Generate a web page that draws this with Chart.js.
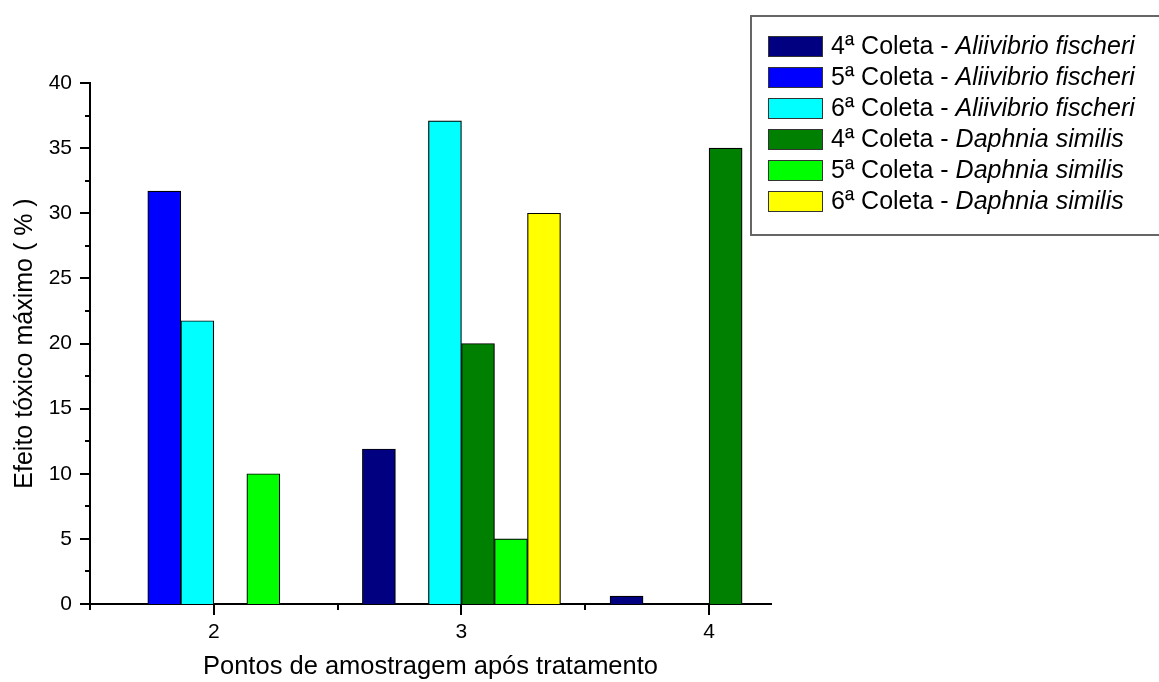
<!DOCTYPE html>
<html>
<head>
<meta charset="utf-8">
<script src="https://cdn.jsdelivr.net/npm/chart.js@4"></script>
<style>
  html, body { margin: 0; padding: 0; background: #fff; }
  canvas { display: block; }
</style>
</head>
<body>
<canvas id="c" width="1159" height="682"></canvas>
<script>
// Sampling points after treatment
const points = [2, 3, 4];
const collections = ['4ª Coleta', '5ª Coleta', '6ª Coleta'];
const organisms = ['Aliivibrio fischeri', 'Daphnia similis'];

// Maximum toxic effect (%) at points 2, 3, 4 (null = not detected)
const af4 = [null, 11.9, 0.6];
const af5 = [31.7, null, null];
const af6 = [21.75, 37.1, null];
const ds4 = [null, 20, 35];
const ds5 = [10, 5, null];
const ds6 = [null, 30, null];

// Tick positions on the x axis (half steps carry minor marks)
const xTickValues = [1.5, 2, 2.5, 3, 3.5, 4];

const seriesValues = [af4, af5, af6, ds4, ds5, ds6];
const seriesColors = ['#000080', '#0000FF', '#00FFFF', '#008000', '#00FF00', '#FFFF00'];
const seriesLabels = [];
organisms.forEach(o => collections.forEach(c => seriesLabels.push(c + ' - ' + o)));

const FONT = '"Liberation Sans", Arial, sans-serif';

// Outward tick marks: long for labelled values, short for intermediate ones
const axisTicks = {
  id: 'axisTicks',
  afterDraw(chart) {
    const { ctx, scales: { x, y } } = chart;
    ctx.save();
    ctx.strokeStyle = '#000';
    ctx.lineWidth = 2;
    ctx.beginPath();
    y.ticks.forEach(t => {
      const py = Math.round(y.getPixelForValue(t.value));
      const len = t.value % 5 === 0 ? 10 : 5;
      ctx.moveTo(y.right - len, py);
      ctx.lineTo(y.right, py);
    });
    x.ticks.forEach(t => {
      const px = Math.round(x.getPixelForValue(t.value));
      const len = Number.isInteger(t.value) ? 11 : 6;
      ctx.moveTo(px, x.top);
      ctx.lineTo(px, x.top + len);
    });
    ctx.stroke();
    ctx.restore();
  }
};

// Framed legend with the species name in italics
const boxLegend = {
  id: 'boxLegend',
  afterDraw(chart) {
    const ctx = chart.ctx;
    ctx.save();
    ctx.strokeStyle = '#666';
    ctx.lineWidth = 2;
    ctx.strokeRect(751, 16, 430, 219);
    chart.data.datasets.forEach((ds, i) => {
      const cy = 46.5 + i * 31;
      ctx.fillStyle = ds.backgroundColor;
      ctx.fillRect(768, cy - 10.5, 55, 21);
      ctx.strokeStyle = '#333';
      ctx.lineWidth = 1;
      ctx.strokeRect(768.5, cy - 10, 54, 20);
      const parts = ds.label.split(' - ');
      const head = parts[0] + ' - ';
      ctx.fillStyle = '#000';
      ctx.textBaseline = 'middle';
      ctx.textAlign = 'left';
      ctx.font = '25px ' + FONT;
      let tx = 831;
      ctx.fillText(head, tx, cy + 1);
      tx += ctx.measureText(head).width;
      ctx.font = 'italic 25px ' + FONT;
      ctx.fillText(parts[1], tx, cy + 1);
    });
    ctx.restore();
  }
};

new Chart(document.getElementById('c'), {
  type: 'bar',
  data: {
    datasets: seriesValues.map((vals, i) => ({
      label: seriesLabels[i],
      data: points.map((p, j) => ({ x: p, y: vals[j] })),
      backgroundColor: seriesColors[i],
      borderColor: '#000',
      borderWidth: 1.2
    }))
  },
  options: {
    responsive: false,
    animation: false,
    layout: { padding: { left: 0, top: 83, right: 388, bottom: 0 } },
    plugins: {
      legend: { display: false },
      tooltip: { enabled: false }
    },
    datasets: {
      bar: { barThickness: 'flex', categoryPercentage: 0.8, barPercentage: 1 }
    },
    scales: {
      x: {
        type: 'linear',
        min: 1.5,
        max: 4.25,
        offset: false,
        afterBuildTicks: s => { s.ticks = xTickValues.map(v => ({ value: v })); },
        afterFit: s => { s.height = 78; },
        grid: { display: false, drawTicks: false },
        border: { display: true, color: '#000', width: 2 },
        ticks: {
          autoSkip: false,
          maxRotation: 0,
          padding: 16,
          color: '#000',
          font: { family: FONT, size: 21 },
          callback: v => Number.isInteger(v) ? String(v) : ''
        },
        title: {
          display: true,
          text: 'Pontos de amostragem após tratamento',
          color: '#000',
          font: { family: FONT, size: 25.5 },
          padding: { top: 0, bottom: 0 }
        }
      },
      y: {
        min: 0,
        max: 40,
        afterFit: s => { s.width = 90; },
        grid: { display: false, drawTicks: false },
        border: { display: true, color: '#000', width: 2 },
        ticks: {
          stepSize: 2.5,
          padding: 18,
          color: '#000',
          font: { family: FONT, size: 21 },
          callback: v => v % 5 === 0 ? String(v) : ''
        },
        title: {
          display: true,
          text: 'Efeito tóxico máximo ( % )',
          color: '#000',
          font: { family: FONT, size: 25 },
          padding: { top: 10, bottom: 0 }
        }
      }
    }
  },
  plugins: [axisTicks, boxLegend]
});
</script>
</body>
</html>
